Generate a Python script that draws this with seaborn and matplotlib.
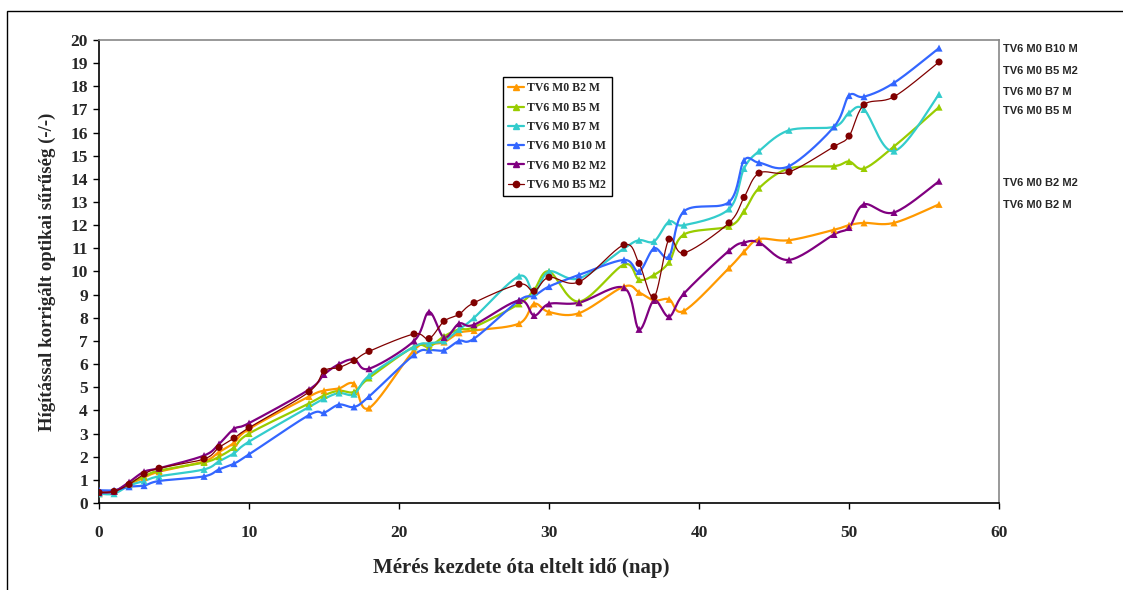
import numpy as np
import pandas as pd
import matplotlib
matplotlib.use("Agg")
import matplotlib.pyplot as plt
import seaborn as sns
from matplotlib.lines import Line2D
from matplotlib.patches import Rectangle

days = [0, 1, 2, 3, 4, 7, 8, 9, 10, 14, 15, 16, 17, 18, 21, 22, 23, 24, 25,
        28, 29, 30, 32, 35, 36, 37, 38, 39, 42, 43, 44, 46, 49, 50, 51, 53, 56]

b2_m = [0.4, 0.5, 0.8, 1.1, 1.35, 1.8, 2.2, 2.6, 3.2, 4.6, 4.85, 4.95, 5.15, 4.1,
        6.6, 6.85, 6.95, 7.35, 7.45, 7.75, 8.6, 8.25, 8.2, 9.35, 9.1, 8.75, 8.8,
        8.3, 10.15, 10.85, 11.4, 11.35, 11.8, 12.0, 12.1, 12.1, 12.9]
b5_m = [0.45, 0.5, 0.85, 1.15, 1.4, 1.75, 2.0, 2.4, 3.0, 4.3, 4.65, 4.85, 4.8, 5.4,
        6.75, 6.75, 7.2, 7.5, 7.6, 8.6, 9.2, 10.0, 8.7, 10.3, 9.65, 9.85, 10.4,
        11.6, 11.95, 12.6, 13.6, 14.45, 14.55, 14.75, 14.45, 15.4, 17.1]
b7_m = [0.4, 0.4, 0.75, 0.95, 1.15, 1.45, 1.8, 2.15, 2.65, 4.15, 4.5, 4.75, 4.7, 5.5,
        6.75, 6.9, 7.0, 7.5, 8.0, 9.8, 9.1, 10.0, 9.7, 11.0, 11.35, 11.3, 12.15,
        12.0, 12.7, 14.45, 15.2, 16.1, 16.25, 16.85, 17.0, 15.2, 17.65]
b10_m = [0.55, 0.55, 0.7, 0.75, 0.95, 1.15, 1.45, 1.7, 2.1, 3.8, 3.9, 4.25, 4.15, 4.6,
         6.4, 6.6, 6.6, 7.0, 7.1, 8.75, 8.95, 9.35, 9.85, 10.5, 10.0, 11.0, 10.65,
         12.6, 13.0, 14.8, 14.7, 14.55, 16.25, 17.6, 17.55, 18.15, 19.65]
b2_m2 = [0.45, 0.5, 0.9, 1.35, 1.5, 2.05, 2.55, 3.2, 3.45, 4.9, 5.55, 6.0, 6.2, 5.8,
         7.0, 8.25, 7.15, 7.75, 7.7, 8.75, 8.1, 8.6, 8.65, 9.3, 7.5, 8.75, 8.05,
         9.05, 10.9, 11.25, 11.25, 10.5, 11.6, 11.9, 12.9, 12.55, 13.9]
b5_m2 = [0.45, 0.5, 0.8, 1.25, 1.5, 1.9, 2.4, 2.8, 3.25, 4.8, 5.7, 5.85, 6.15, 6.55,
         7.3, 7.1, 7.85, 8.15, 8.65, 9.45, 9.15, 9.75, 9.55, 11.15, 10.35, 8.9, 11.4,
         10.8, 12.1, 13.2, 14.25, 14.3, 15.4, 15.85, 17.2, 17.55, 19.05]

series_names = ["TV6 M0 B2 M", "TV6 M0 B5 M", "TV6 M0 B7 M",
                "TV6 M0 B10 M", "TV6 M0 B2 M2", "TV6 M0 B5 M2"]
series_values = [b2_m, b5_m, b7_m, b10_m, b2_m2, b5_m2]
colors = ["#FF9900", "#99CC00", "#33CCCC", "#3366FF", "#800080", "#800000"]
markers = ["^", "^", "^", "^", "^", "o"]
widths = [1.6, 1.6, 1.6, 1.6, 1.6, 0.9]

# labels listed at right edge, top to bottom, with their y anchor (data units)
right_labels = ["TV6 M0 B10 M", "TV6 M0 B5 M2", "TV6 M0 B7 M",
                "TV6 M0 B5 M", "TV6 M0 B2 M2", "TV6 M0 B2 M"]
right_label_y = [19.62, 18.67, 17.77, 16.95, 13.83, 12.88]


def smooth_curve(x, y, n=20):
    """Catmull-Rom style smoothing, like a spreadsheet 'smoothed line'."""
    x = np.asarray(x, float)
    y = np.asarray(y, float)
    pts = np.column_stack([x, y])
    ext = np.vstack([pts[0], pts, pts[-1]])
    out = []
    t = np.linspace(0, 1, n, endpoint=False)[:, None]
    for i in range(1, len(ext) - 2):
        p0, p1, p2, p3 = ext[i - 1], ext[i], ext[i + 1], ext[i + 2]
        c1 = p1 + (p2 - p0) / 6
        c2 = p2 - (p3 - p1) / 6
        seg = ((1 - t) ** 3) * p1 + 3 * ((1 - t) ** 2) * t * c1 \
            + 3 * (1 - t) * t ** 2 * c2 + t ** 3 * p2
        out.append(seg)
    out.append(pts[-1][None, :])
    out = np.vstack(out)
    return out[:, 0], out[:, 1]


df = pd.concat(
    [pd.DataFrame({"day": days, "value": v, "series": name})
     for name, v in zip(series_names, series_values)],
    ignore_index=True,
)

sns.set_theme(style="white")
plt.rcParams["font.family"] = ["Liberation Serif", "DejaVu Serif"]

fig = plt.figure(figsize=(11.23, 5.9), dpi=100)
ax = fig.add_axes([0.0882, 0.1475, 0.8014, 0.7847])

for name, v, c, w in zip(series_names, series_values, colors, widths):
    sx, sy = smooth_curve(days, v)
    ax.plot(sx, sy, color=c, lw=w, zorder=2)

sns.scatterplot(
    data=df, x="day", y="value", hue="series", style="series",
    palette=dict(zip(series_names, colors)),
    markers=dict(zip(series_names, markers)),
    s=26, edgecolor="none", legend=False, ax=ax, zorder=3,
)

ax.set_xlim(0, 60)
ax.set_ylim(0, 20)
ax.set_xticks(range(0, 61, 10))
ax.set_yticks(range(0, 21))
ax.tick_params(axis="both", direction="out", length=4, width=1,
               labelsize=12.5, color="black", left=True, bottom=True)
for lab in ax.get_xticklabels() + ax.get_yticklabels():
    lab.set_fontweight("bold")
ax.tick_params(axis="x", pad=12)
ax.tick_params(axis="y", pad=4)

for side in ["left", "bottom"]:
    ax.spines[side].set_color("black")
    ax.spines[side].set_linewidth(1.2)
for side in ["top", "right"]:
    ax.spines[side].set_color("#888888")
    ax.spines[side].set_linewidth(1.2)

ax.set_xlabel("Mérés kezdete óta eltelt idő (nap)", fontsize=15,
              fontweight="bold")
ax.xaxis.set_label_coords(0.469, -0.118)
ax.set_ylabel("Hígítással korrigált optikai sűrűség (-/-)", fontsize=13.5,
              fontweight="bold", labelpad=10)

handles = [
    Line2D([0], [0], color=c, lw=w, marker=m, markersize=4.5, label=n)
    for n, c, m, w in zip(series_names, colors, markers, widths)
]
leg = ax.legend(
    handles=handles, loc="upper left", bbox_to_anchor=(0.449, 0.92),
    frameon=True, fancybox=False, edgecolor="black", framealpha=1,
    prop={"family": "Liberation Serif", "weight": "bold", "size": 8.5},
    handlelength=1.3, handletextpad=0.3, labelspacing=0.62,
    borderpad=0.45, borderaxespad=0,
)
leg.get_frame().set_linewidth(1.0)

for lab, yv in zip(right_labels, right_label_y):
    ax.annotate(lab, xy=(1.0, yv), xycoords=("axes fraction", "data"),
                xytext=(3, 0), textcoords="offset points",
                ha="left", va="center", fontsize=8,
                fontweight="bold", family=["Liberation Sans", "DejaVu Sans"])

fig.add_artist(Rectangle((7 / 1123, -0.2), 1.5, 1.2 - 11 / 590,
                         transform=fig.transFigure, fill=False,
                         edgecolor="black", lw=1.0))

fig.savefig("out.png", dpi=100)
